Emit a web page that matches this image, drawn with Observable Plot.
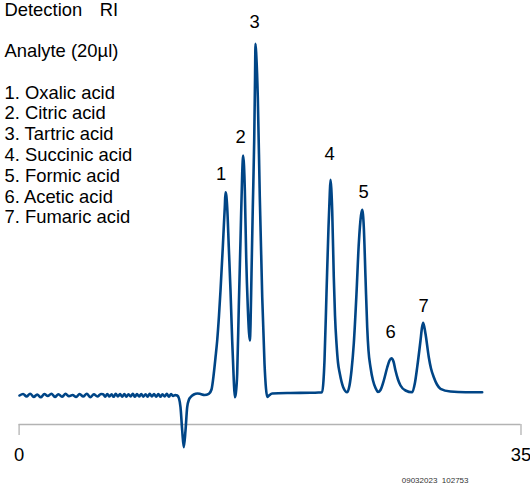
<!DOCTYPE html>
<html>
<head>
<meta charset="utf-8">
<script src="https://cdn.jsdelivr.net/npm/d3@7"></script>
<script src="https://cdn.jsdelivr.net/npm/@observablehq/plot@0.6"></script>
<style>
  html, body { margin: 0; padding: 0; background: #fff; }
  svg { display: block; }
</style>
</head>
<body>
<div id="chart"></div>
<script>
// Retention time (min) and detector signal (RI, arbitrary units)
const noiseTime = [0.03, 0.28, 0.52, 0.77, 1.02, 1.26, 1.51, 1.76, 2.0, 2.25, 2.5, 2.74, 2.99, 3.24, 3.48, 3.73, 3.98, 4.22, 4.47, 4.72, 4.97, 5.21, 5.46, 5.71,
  5.86, 6.0, 6.15, 6.3, 6.45, 6.59, 6.74, 6.89, 7.04, 7.19, 7.34, 7.48, 7.63, 7.78, 7.93, 8.08, 8.22, 8.37, 8.52, 8.67, 8.82, 8.96, 9.11, 9.26, 9.41, 9.56, 9.71, 9.85, 10.0, 10.15, 10.3, 10.45, 10.6, 10.74, 10.89];
const noiseSignal = [-1, 0.5, -2, 0.8, -2.5, 0, -2.8, 0.5, -1.5, 0.8, -2.5, 0.3, -2.2, 0.6, -1.8, -0.5, -2.5, 0.5, -2, 0.8, -2.6, 0.2, -2, 0.5,
  0.3, -2.2, 0.5, -2, 0.2, -2.3, 0.6, -1.9, 0.4, -2.1, 0.5, -2.2, 0.3, -2, 0.6, -2.3, 0.4, -2, 0.5, -2.1, 0.3, -2.2, 0.6, -1.9, 0.4, -2.1, 0.5, -2.3, 0.3, -2, 0.6, -2.2, 0.4, -1.5, -0.5];

const traceTime = [11.025, 11.151, 11.255, 11.374, 11.485, 11.604, 11.722, 11.848, 11.952, 12.183, 12.441, 12.65, 12.929, 13.229,
  13.417, 13.577, 13.696, 13.814, 13.94, 14.045, 14.205, 14.289, 14.344, 14.393, 14.449, 14.512, 14.623, 14.742, 14.86, 14.972, 15.042,
  15.111, 15.209, 15.32, 15.439, 15.558, 15.627, 15.683, 15.742, 15.837, 15.948, 16.032, 16.091,
  16.137, 16.207, 16.297, 16.395, 16.451, 16.485, 16.541, 16.646, 16.785, 16.955, 17.113, 17.217, 17.304, 17.427, 17.65,
  18.926, 20.321, 20.878,
  21.136, 21.227, 21.297, 21.436, 21.576, 21.66, 21.715, 21.771, 21.834, 21.945, 22.029, 22.134, 22.238, 22.364, 22.601, 22.88,
  23.04, 23.18, 23.34, 23.528, 23.689, 23.842, 23.926, 23.982, 24.038, 24.156, 24.275, 24.365, 24.505, 24.679, 24.856, 25.028,
  25.202, 25.432, 25.669, 25.83, 25.969, 26.108, 26.248, 26.422, 26.597, 26.947, 27.412,
  27.608, 27.762, 27.992, 28.097, 28.18, 28.34, 28.57, 28.724, 28.919, 29.142, 29.389, 30.083, 31.128, 32.293];
const traceSignal = [-1, -4, -12.7, -36, -52.7, -36, -12.7, -5, -2.7, 0, 1, 0.5, -0.5, 0.7,
  5, 21, 37, 54, 79, 104, 147.3, 172, 187.3, 202.3, 199, 187.3, 147.3, 104, 54, 14, -2.7,
  1, 21, 87.3, 154, 221, 239, 229, 204, 137.3, 87.3, 62, 54,
  69, 121, 187.3, 254, 314, 350.7, 339, 297.3, 197.3, 97.3, 31, 6, -2.5, -1, 1,
  1.5, 1.7, 2,
  2.3, 14, 34, 101, 167.3, 199, 214.7, 206, 184, 117.3, 79, 51, 32, 21, 7.3, 2.3,
  9, 24, 51, 101, 151, 179, 184.7, 180, 167.3, 117.3, 67.3, 44, 27.3, 14, 6.5, 2.5,
  4.5, 14, 27, 34, 36.3, 33, 24, 15, 9, 4, 2.3,
  12, 27.3, 54, 67, 71.7, 60.7, 37.3, 26, 17.3, 10, 5.7, 3, 2.3, 2.3];

// Peak numbers and where their labels sit
const peakLabels = ["1", "2", "3", "4", "5", "6", "7"];
const labelTime = [14.093, 15.439, 16.416, 21.646, 24.017, 25.899, 28.201];
const labelSignal = [220, 257, 372.3, 240, 202, 62.5, 88];

// Legend text
const legendLines = ["Detection", "", "Analyte (20µl)", "", "1. Oxalic acid", "2. Citric acid", "3. Tartric acid",
  "4. Succinic acid", "5. Formic acid", "6. Acetic acid", "7. Fumaric acid"];
const detectorName = "RI";
const axisTicks = [0, 35];
const stamp = "09032023\u00a0 102753";

const time = noiseTime.concat(traceTime);
const signal = noiseSignal.concat(traceSignal);
const trace = time.map((t, i) => ({t, v: signal[i]}));
const labels = peakLabels.map((s, i) => ({s, t: labelTime[i], v: labelSignal[i]}));

const FS = 18.4;
const LH = 20.77 / FS;

const chart = Plot.plot({
  width: 530,
  height: 486,
  marginLeft: 18.6,
  marginRight: 9.5,
  marginTop: 34,
  marginBottom: 62,
  style: {fontFamily: "'Liberation Sans', Arial, sans-serif", background: "#fff", overflow: "visible"},
  x: {domain: [0, 35], axis: null},
  y: {domain: [-30, 360], axis: null},
  marks: [
    Plot.ruleY([-30], {stroke: "#b3b3b3", strokeWidth: 1.3}),
    Plot.axisX(axisTicks, {label: null, tickSize: 11, tickPadding: 12, stroke: "#b3b3b3", fill: "#000", fontSize: FS, tickFormat: d => String(d), strokeWidth: 1.3}),
    Plot.line(trace, {x: "t", y: "v", stroke: "#004586", strokeWidth: 2.6, curve: "monotone-x"}),
    Plot.text(labels, {x: "t", y: "v", text: "s", fontSize: FS, fill: "#000"}),
    Plot.text([legendLines.join("\n")], {frameAnchor: "top-left", textAnchor: "start", lineAnchor: "top", lineHeight: LH, fontSize: FS, fill: "#000", dx: 4 - 18.6, dy: -33.6}),
    Plot.text([detectorName], {frameAnchor: "top-left", textAnchor: "start", lineAnchor: "top", lineHeight: LH, fontSize: FS, fill: "#000", dx: 99.3 - 18.6, dy: -33.6}),
    Plot.text([stamp], {frameAnchor: "bottom-right", textAnchor: "end", fontSize: 8, fill: "#333", dx: -(520.5 - 468), dy: 58})
  ]
});
document.getElementById("chart").appendChild(chart);
</script>
</body>
</html>
